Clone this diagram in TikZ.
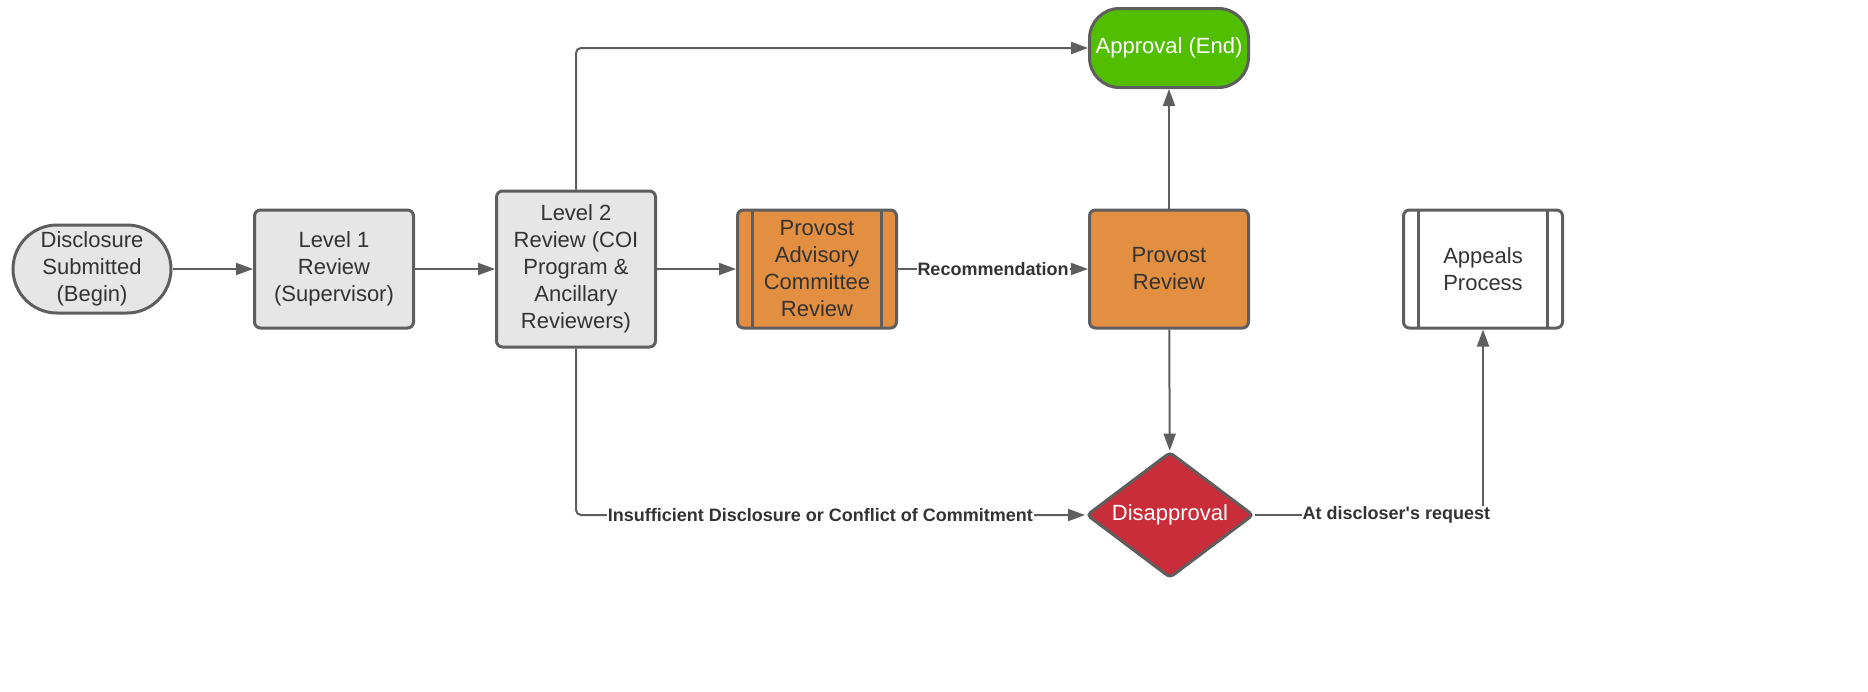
\documentclass[tikz,border=0pt]{standalone}
\usepackage{fontspec}
\setmainfont{Liberation Sans}
\usetikzlibrary{arrows.meta,shapes.geometric}

\definecolor{lineGray}{HTML}{5E5E5E}
\definecolor{boxGray}{HTML}{E6E6E6}
\definecolor{provOrange}{HTML}{E38F41}
\definecolor{okGreen}{HTML}{52BE00}
\definecolor{noRed}{HTML}{C92D39}
\definecolor{textGray}{HTML}{333333}

\tikzset{
  base/.style={draw=lineGray, line width=3pt, align=center, text=textGray,
    font=\fontsize{22}{27}\selectfont, inner sep=0pt},
  terminal/.style={base, rectangle, rounded corners=44pt, fill=boxGray,
    minimum width=158pt, minimum height=88pt},
  review/.style={base, rectangle, rounded corners=6pt, fill=boxGray,
    minimum width=159pt, minimum height=118pt},
  subproc/.style={review, path picture={
      \draw[lineGray, line width=3pt]
        ([xshift=15pt]path picture bounding box.north west) --
        ([xshift=15pt]path picture bounding box.south west);
      \draw[lineGray, line width=3pt]
        ([xshift=-15pt]path picture bounding box.north east) --
        ([xshift=-15pt]path picture bounding box.south east);}},
  flow/.style={draw=lineGray, line width=2pt,
    -{Triangle[length=17pt,width=12pt]}},
  cond/.style={fill=white, text=textGray, inner sep=1pt,
    font=\bfseries\fontsize{18}{20}\selectfont},
}

\begin{document}
\begin{tikzpicture}[x=1pt, y=-1pt]
	\useasboundingbox (0,0) rectangle (1868,691);

	% boxes
	\node[terminal] (begin) at (92,269) {Disclosure\\Submitted\\(Begin)};
	\node[review] (lvlone) at (334,269) {Level 1\\Review\\(Supervisor)};
	\node[review, minimum height=156pt] (lvltwo) at (576,269) {Level 2\\Review (COI\\Program \&\\Ancillary\\Reviewers)};
	\node[subproc, fill=provOrange] (advisory) at (817,269) {Provost\\Advisory\\Committee\\Review};
	\node[review, fill=provOrange] (provost) at (1169,269) {Provost\\Review};
	\node[base, rounded corners=30pt, fill=okGreen, text=white, minimum width=159pt, minimum height=79pt] (approval) at (1169,48) {Approval (End)};
	\node[base, diamond, aspect=1.32, rounded corners=4pt, fill=noRed, text=white, minimum width=167pt, minimum height=126pt] (disapproval) at (1170,515) {Disapproval};
	\node[subproc, fill=white] (appeals) at (1483,269) {Appeals\\Process};

	% connectors
	\draw[flow] (begin) -- (lvlone);
	\draw[flow] (lvlone) -- (lvltwo);
	\draw[flow] (lvltwo) -- (advisory);
	\draw[flow] (advisory) -- node[cond] {Recommendation} (provost);
	\draw[flow, rounded corners=5pt] (lvltwo.north) |- (approval.west);
	\draw[flow] (provost) -- (approval);
	\draw[flow] (provost) -- (disapproval);
	\draw[flow, rounded corners=5pt] (lvltwo.south) |- node[cond, pos=0.74] {Insufficient Disclosure or Conflict of Commitment} (disapproval.west);
	\draw[flow] (disapproval.east) -| node[cond, pos=0.31] {At discloser\textquotesingle s request} (appeals.south);
\end{tikzpicture}
\end{document}
